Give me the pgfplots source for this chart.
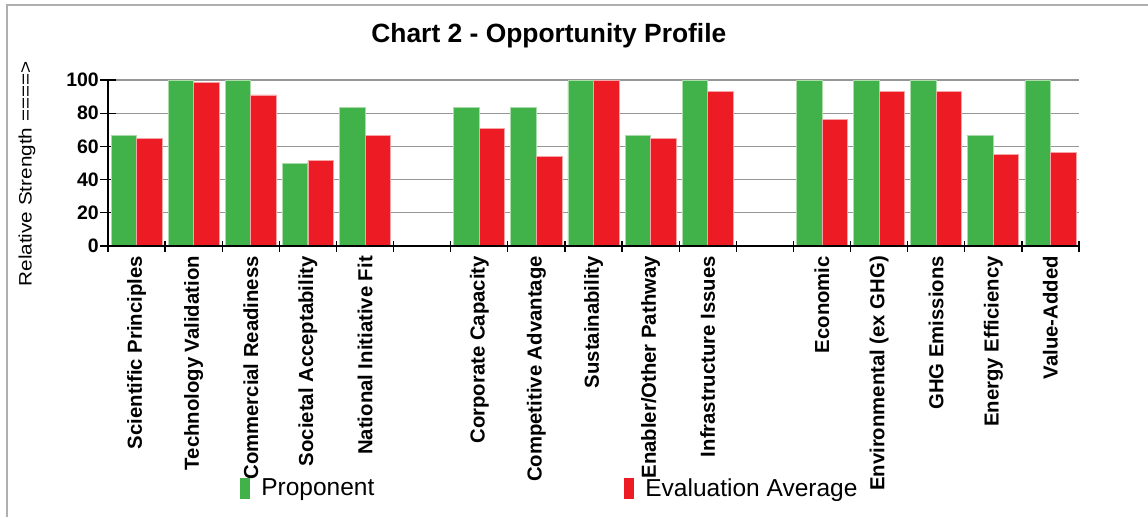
\documentclass[border=0pt]{standalone}
\usepackage{fontspec}
\setmainfont{Liberation Sans}
\usepackage{pgfplots}
\pgfplotsset{compat=1.18}
\definecolor{pgreen}{RGB}{64,178,73}
\definecolor{pred}{RGB}{237,28,36}
\definecolor{pgreenedge}{RGB}{170,220,170}
\definecolor{prededge}{RGB}{245,165,165}
\definecolor{gridgray}{RGB}{150,150,150}
\definecolor{framegray}{RGB}{175,175,175}
\begin{document}
\begin{tikzpicture}[x=1pt,y=1pt]
\useasboundingbox (0,0) rectangle (1148,517);
\draw[framegray, line width=2pt] (7,0) -- (7,511.5) -- (1148,511.5);
\begin{axis}[
  at={(108pt,271pt)}, anchor=south west,
  scale only axis, width=971pt, height=166pt,
  xmin=-0.5, xmax=16.5, ymin=0, ymax=100,
  axis lines*=left,
  axis line style={line width=1.5pt, black},
  tick style={black, line width=1.3pt},
  tick align=center,
  major tick length=16pt,
  minor tick length=11pt,
  ytick={0,20,...,100},
  ymajorgrids,
  grid style={gridgray, line width=1.2pt},
  xtick={0,...,16},
  every major x tick/.style={draw=none},
  minor xtick={-0.5,0.5,...,16.5},
  xticklabels={Scientific Principles, Technology Validation, Commercial Readiness, Societal Acceptability, National Initiative Fit, {}, Corporate Capacity, Competitive Advantage, Sustainability, Enabler/Other Pathway, Infrastructure Issues, {}, Economic, Environmental (ex GHG), GHG Emissions, Energy Efficiency, Value-Added},
  xticklabel style={rotate=90, anchor=east, font=\bfseries\fontsize{20.3}{20.3}\selectfont, inner sep=2pt},
  yticklabel style={font=\bfseries\fontsize{19.5}{19.5}\selectfont, inner sep=1pt, xshift=0pt},
  /pgf/number format/assume math mode=true,
  title={Chart 2 - Opportunity Profile},
  title style={at={(rel axis cs:0.454,1)}, anchor=base, yshift=32pt, font=\bfseries\fontsize{26.4}{26.4}\selectfont},
  ylabel={\scalebox{1.15}[1]{Relative Strength ====>}},
  ylabel style={at={(rel axis cs:-0.0834,0.434)}, anchor=center, font=\fontsize{18}{18}\selectfont},
  legend style={at={(rel axis cs:0.133,-1.458)}, anchor=west, draw=none, fill=none,
    font=\fontsize{24.5}{24.5}\selectfont, legend columns=2,
    /tikz/every odd column/.append style={column sep=9pt},
    /tikz/every even column/.append style={column sep=248pt}},
  legend image code/.code={\fill[#1, draw=none] (0pt,-10.5pt) rectangle (10pt,10.5pt);},
]
\addplot[ybar, bar width=25.5pt, bar shift=-12.8pt, fill=pgreen, draw=pgreenedge, line width=0.8pt]
  coordinates {(0,66.7)(1,100)(2,100)(3,50)(4,83.3)(6,83.3)(7,83.3)(8,100)(9,66.7)(10,100)(12,100)(13,100)(14,100)(15,66.7)(16,100)};
\addlegendentry{Proponent}
\addplot[ybar, bar width=25.5pt, bar shift=12.8pt, fill=pred, draw=prededge, line width=0.8pt]
  coordinates {(0,65)(1,98.3)(2,91)(3,51.7)(4,66.7)(6,70.8)(7,54)(8,100)(9,65)(10,92.9)(12,76.3)(13,92.9)(14,92.9)(15,55.4)(16,56.2)};
\addlegendentry{Evaluation Average}
\addplot[forget plot, black, line width=1.5pt] coordinates {(-0.5,0)(16.5,0)};
\end{axis}
\end{tikzpicture}
\end{document}
